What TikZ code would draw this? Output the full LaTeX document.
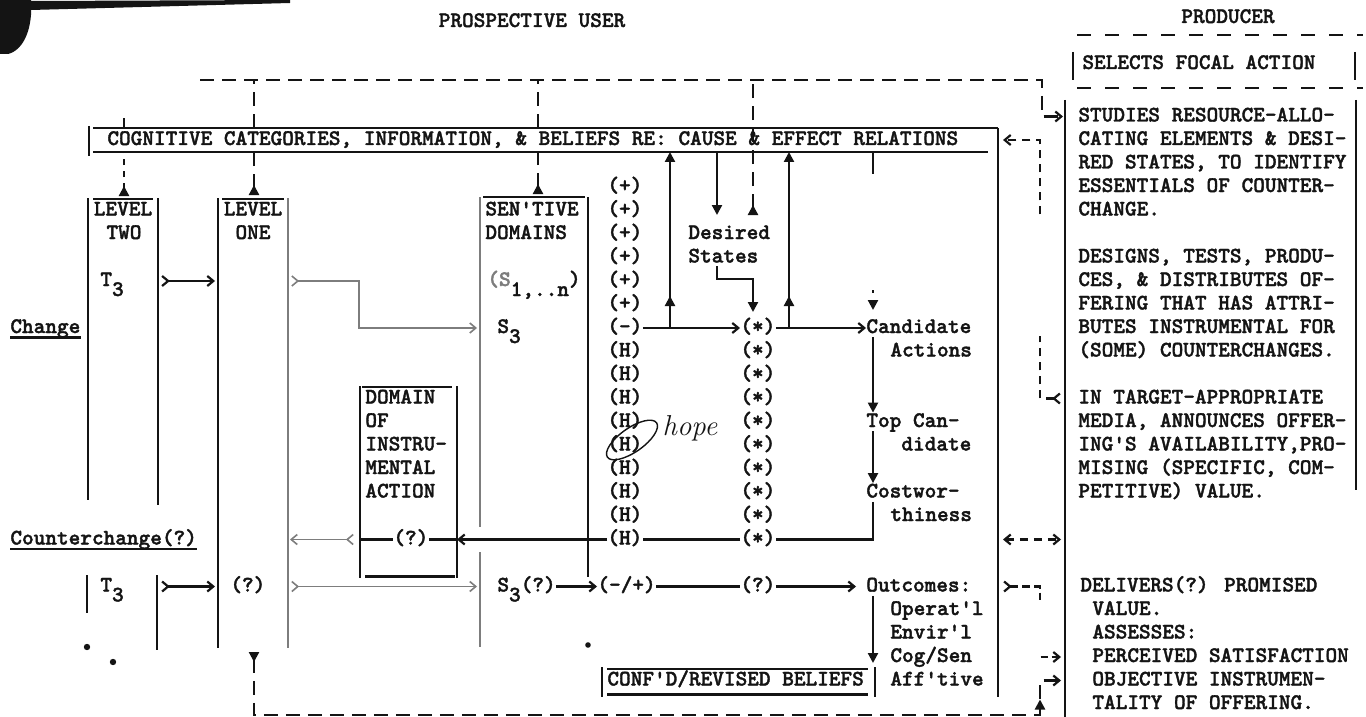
\documentclass[tikz,border=0pt]{standalone}
\usepackage{fontspec}
\usepackage{tikz}
\usetikzlibrary{arrows.meta,decorations.markings}
\newfontfamily\typew{lmmonolt10-bold.otf}[FakeBold=1.6]
\definecolor{TypeInk}{RGB}{20,20,20}
\definecolor{FaintInk}{RGB}{125,125,125}

\begin{document}
\begin{tikzpicture}[x=0.5pt, y=-0.5pt,
    tw/.style={font=\typew\fontsize{11.1}{11.75}\selectfont, text=TypeInk,
               inner sep=0pt, text height=7pt, text depth=2pt, anchor=west},
    twc/.style={tw, anchor=center},
    wire/.style={line width=1.1pt, draw=TypeInk},
    pale/.style={line width=0.8pt, draw=FaintInk},
    dsh/.style={line width=1.1pt, draw=TypeInk, dash pattern=on 7pt off 4pt},
    typed/.style={{Straight Barb[reversed,length=3pt,width=5pt]}-{Straight Barb[length=3pt,width=5pt]}},
    tohead/.style={-{Straight Barb[length=3pt,width=5pt]}},
    tipend/.style={-{Triangle[length=5pt,width=5pt]}},
    tipstart/.style={{Triangle[reversed,length=5pt,width=5pt]}-},
    midup/.style={postaction={decorate}, decoration={markings,
                  mark=at position #1 with {\arrow{Triangle[length=5pt,width=5pt]}}}}
  ]
  \fill[white] (0,0) rectangle (1366,717);
  \useasboundingbox (0,0) rectangle (1366,717);

  % scan edge, top left
  \fill[TypeInk] (0,0) -- (31,0) .. controls (33,28) and (24,50) .. (8,54) -- (0,54) -- cycle;
  \fill[TypeInk] (31,1) -- (290,0) -- (290,3) -- (31,10) -- cycle;

  % headings
  \node[twc] (user) at (532,22) {PROSPECTIVE USER};
  \node[twc] (prod) at (1228,18) {PRODUCER};
  \node[tw] (focal) at (1082,64) {SELECTS FOCAL ACTION};
  \draw[dsh, dash pattern=on 7pt off 7pt] (1077,35) -- (1363,35);
  \draw[dsh, dash pattern=on 7pt off 7pt] (1077,88) -- (1363,88);
  \draw[wire] (1073,52) -- (1073,80);
  \draw[wire] (1355,52) -- (1355,80);

  % cognitive bar and user frame
  \node[tw] (cog) at (107,140) {COGNITIVE CATEGORIES, INFORMATION, \& BELIEFS RE: CAUSE \& EFFECT RELATIONS};
  \coordinate (cogt) at (0,128);
  \coordinate (cogb) at (0,152);
  \coordinate (topln) at (0,80);
  \draw[wire] (93,128) -- (998,128);
  \draw[wire] (93,152) -- (988,152);
  \draw[wire] (89,126) -- (89,156);
  \draw[wire] (998,128) -- (998,697);

  % level two
  \node[twc] (lvtwo) at (123,210.5) {LEVEL};
  \node[twc] (two) at (124,234) {TWO};
  \draw[wire] (93,199) -- (153,199);
  \draw[wire] (88,198) -- (88,500);
  \draw[wire] (158,198) -- (158,505);
  \node[tw] (tthree) at (100,281) {T\raisebox{-5pt}{3}};

  % level one
  \node[twc] (lvone) at (253,210.5) {LEVEL};
  \node[twc] (one) at (253,234) {ONE};
  \draw[wire] (222,199) -- (284,199);
  \draw[wire] (218,198) -- (218,648);
  \draw[pale] (288,198) -- (288,648);

  \node[tw] (chg) at (10,328) {Change};
  \draw[wire] (chg.south west) -- (chg.south east);
  \node[tw] (cch) at (10,539.5) {Counterchange(?)};
  \draw[wire] (cch.south west) -- (cch.south east);

  % sensitive domains
  \node[tw] (sen) at (485,210.5) {SEN'TIVE};
  \node[tw] (dom) at (485,234) {DOMAINS};
  \draw[wire] (483,197) -- (585,197);
  \draw[pale] (480,197) -- (480,527);
  \draw[pale] (480,552) -- (480,647);
  \draw[wire] (588,197) -- (588,577);
  \node[tw] (sn) at (487,281) {{\color{FaintInk}(S}\raisebox{-5pt}{1,..n})};
  \node[tw] (sthree) at (497,328) {S\raisebox{-5pt}{3}};

  % domain of instrumental action
  \foreach \w [count=\k from 0] in {DOMAIN, OF, INSTRU-, MENTAL, ACTION}
    \node[tw] (ia\k) at (365,{398.5+23.5*\k}) {\w};
  \node[tw] (qdom) at (393,539.5) {(?)};
  \draw[wire] (362,387) -- (452,387);
  \draw[wire, line width=1.5pt] (365,576) -- (455,576);
  \draw[wire] (360,386) -- (360,578);
  \draw[wire] (457,386) -- (457,578);
  \coordinate (dombl) at (360,539.5);
  \coordinate (dombr) at (457,539.5);
  \draw[wire] (dombl) -- (qdom.west);
  \draw[wire] (qdom.east) -- (dombr);

  % belief columns
  \foreach \r in {2,...,7}
    \node[tw] (plus\r) at (607,{140+23.5*\r}) {(+)};
  \node[tw] (minus) at (607,328) {(-)};
  \foreach \r in {9,...,17}
    \node[tw] (h\r) at (607,{140+23.5*\r}) {(H)};
  \foreach \r in {8,...,17}
    \node[tw] (st\r) at (740,{140+23.5*\r}) {(*)};
  \node[tw] (desired) at (688,234) {Desired};
  \node[tw] (states) at (688,257.5) {States};

  \node[tw] (cand) at (866,328) {Candidate};
  \node[tw] (act) at (890,351.5) {Actions};
  \node[tw] (topc) at (866,422) {Top Can-};
  \node[tw] (didate) at (901,445.5) {didate};
  \node[tw] (cost) at (866,492.5) {Costwor-};
  \node[tw] (thin) at (890,516) {thiness};

  \node[tw] (outc) at (866,586.5) {Outcomes:};
  \node[tw] (oper) at (890,610) {Operat'l};
  \node[tw] (envir) at (890,633.5) {Envir'l};
  \node[tw] (cogsen) at (890,657) {Cog/Sen};
  \node[tw] (afft) at (890,680.5) {Aff'tive};

  % lower row
  \node[tw] (tlow) at (100,586.5) {T\raisebox{-5pt}{3}};
  \draw[wire] (87,575) -- (87,613);
  \draw[wire] (157,575) -- (157,650);
  \node[tw] (qone) at (230,586.5) {(?)};
  \node[tw] (sq) at (497,586.5) {S\raisebox{-5pt}{3}(?)};
  \node[tw] (pm) at (597,586.5) {(-/+)};
  \node[tw] (qmid) at (740,586.5) {(?)};

  \node[tw] (conf) at (607,680.5) {CONF'D/REVISED BELIEFS};
  \draw[wire] (607,669) -- (868,669);
  \draw[wire, line width=1.5pt] (607,694) -- (868,694);
  \draw[wire] (602,667) -- (602,697);
  \draw[wire] (875,667) -- (875,697);

  % producer
  \draw[wire] (1065,100) -- (1065,717);
  \draw[wire] (1356,100) -- (1356,490);
  \foreach \pline [count=\k from 0] in {{STUDIES RESOURCE-ALLO-},{CATING ELEMENTS \& DESI-},{RED STATES, TO IDENTIFY},{ESSENTIALS OF COUNTER-},{CHANGE.}}
    \node[tw] (pa\k) at (1078,{116.5+23.5*\k}) {\pline};
  \foreach \pline [count=\k from 0] in {{DESIGNS, TESTS, PRODU-},{CES, \& DISTRIBUTES OF-},{FERING THAT HAS ATTRI-},{BUTES INSTRUMENTAL FOR},{(SOME) COUNTERCHANGES.}}
    \node[tw] (pb\k) at (1078,{257.5+23.5*\k}) {\pline};
  \foreach \pline [count=\k from 0] in {{IN TARGET-APPROPRIATE},{MEDIA, ANNOUNCES OFFER-},{ING'S AVAILABILITY,PRO-},{MISING (SPECIFIC, COM-},{PETITIVE) VALUE.}}
    \node[tw] (pc\k) at (1078,{398.5+23.5*\k}) {\pline};
  \node[tw] (pd0) at (1080,586.5) {DELIVERS(?) PROMISED};
  \foreach \pline [count=\k from 1] in {{VALUE.},{ASSESSES:},{PERCEIVED SATISFACTION},{OBJECTIVE INSTRUMEN-},{TALITY OF OFFERING.}}
    \node[tw] (pd\k) at (1092,{586.5+23.5*\k}) {\pline};

  % dashed feedback along the top
  \coordinate (tl) at (200,80);
  \coordinate (tr) at (1042,80);
  \coordinate (pin0) at (1063,116.5);
  \draw[dsh, tohead] (tl) -- (tr) |- (pin0);

  % risers into the cognitive bar
  \coordinate (l2top) at (124,196);
  \coordinate (l1top) at (254,195);
  \coordinate (sentop) at (538,194);
  \coordinate (desup) at (753,215);
  \coordinate (desdn) at (717,215);
  \draw[dsh, dash pattern=on 3pt off 3pt, tipstart] (l2top) -- (l2top |- cogb);
  \draw[wire] (l2top |- cogt) -- ++(0,-10);
  \draw[dsh, tipstart] (l1top) -- (l1top |- cogb);
  \draw[dsh] (l1top |- cogt) -- (l1top |- topln);
  \draw[dsh, tipstart] (sentop) -- (sentop |- cogb);
  \draw[dsh] (sentop |- cogt) -- (sentop |- topln);
  \draw[dsh, tipstart] (desup) -- (desup |- topln);
  \draw[wire, tipend] (desdn |- cogb) -- (desdn);

  \coordinate (ra) at (670,328);
  \coordinate (rb) at (789,328);
  \draw[wire, tipend, midup=16pt] (ra) -- (ra |- cogb);
  \draw[wire, tipend, midup=16pt] (rb) -- (rb |- cogb);
  \coordinate (cdn) at (873,310);
  \draw[wire, tipend, dash pattern=on 11pt off 58pt on 1.5pt off 20pt] (cdn |- cogb) -- (cdn);

  \coordinate (dsa) at (717,266);
  \coordinate (dsb) at (753,312);
  \draw[wire, tipend] (dsa) -- ++(0,13) -| (dsb);

  % candidate chain
  \draw[wire, tohead] (minus.east) -- (st8.west);
  \draw[wire, tohead] (st8.east) -- (cand.west);
  \draw[wire, tipend] ([xshift=3.5pt]cand.south west) -- ([xshift=3.5pt]topc.north west);
  \draw[wire, tipend] ([xshift=3.5pt]topc.south west) -- ([xshift=3.5pt]cost.north west);
  \draw[wire] ([xshift=3.5pt]cost.south west) |- (st17.east);
  \draw[wire] (st17.west) -- (h17.east);
  \draw[wire, tohead] (h17.west) -- (dombr);
  \coordinate (outdn) at (873,663);
  \draw[wire, tipend] ([xshift=3.5pt]outc.south west) -- (outdn);

  % typed arrows between the columns
  \coordinate (l2r6) at (161,281);
  \coordinate (l1l6) at (215,281);
  \draw[wire, typed] (l2r6) -- (l1l6);
  \coordinate (l1r6) at (291,281);
  \coordinate (bend6) at (359,281);
  \coordinate (senl8) at (477,328);
  \draw[pale, typed] (l1r6) -- (bend6) |- (senl8);
  \coordinate (l1r17) at (290,539.5);
  \draw[pale, typed] ([xshift=-3pt]dombl) -- (l1r17);
  \coordinate (l2r19) at (161,586.5);
  \coordinate (l1l19) at (215,586.5);
  \draw[wire, typed] (l2r19) -- (l1l19);
  \coordinate (l1r19) at (291,586.5);
  \coordinate (senl19) at (477,586.5);
  \draw[pale, typed] (l1r19) -- (senl19);
  \draw[wire, tohead] (sq.east) -- (pm.west);
  \draw[wire] (pm.east) -- (qmid.west);
  \draw[wire, tohead] (qmid.east) -- ([xshift=-5pt]outc.west);

  % links with the producer
  \coordinate (fr0) at (1003,140);
  \coordinate (cj0) at (1040,140);
  \coordinate (pin11) at (1061,398.5);
  \draw[dsh, typed, dash pattern=on 4pt off 3pt on 4pt off 3pt on 4pt off 3pt on 4pt off 3pt on 4pt off 3pt on 3pt off 61pt on 4pt off 3pt on 4pt off 3pt on 4pt off 3pt on 4pt off 3pt on 4pt off 3pt on 4pt off 3pt on 4pt off 3pt on 4pt off 3pt on 4pt off 3pt]
    (pin11) -| (cj0) -- (fr0);
  \coordinate (fr17) at (1003,539.5);
  \coordinate (pin17) at (1061,539.5);
  \draw[dsh, dash pattern=on 4pt off 3pt, {Straight Barb[length=3pt,width=5pt]}-{Straight Barb[length=3pt,width=5pt]}] (fr17) -- (pin17);
  \coordinate (fr19) at (1003,586.5);
  \coordinate (cj22) at (1040,657);
  \coordinate (pin22) at (1061,657);
  \draw[dsh, typed, dash pattern=on 4pt off 2pt on 4pt off 2pt on 4pt off 2pt on 3.5pt off 29pt on 3.5pt off 2pt on 4pt off 2pt on 4pt off 2pt]
    (fr19) -| (cj22) -- (pin22);
  \coordinate (l1bot) at (254,652);
  \coordinate (cj24) at (1040,715);
  \coordinate (pin23) at (1061,680.5);
  \draw[dsh, {Triangle[reversed,length=5pt,width=5pt]}-{Straight Barb[length=3pt,width=5pt]}, midup=-20pt] (l1bot) |- (cj24) |- (pin23);

  % stray typed dots
  \fill[TypeInk] (87,647) circle (1.6pt);
  \fill[TypeInk] (113,662) circle (1.6pt);
  \fill[TypeInk] (588,645) circle (1.4pt);

  % handwritten note
  \draw[TypeInk, line width=0.7pt, rotate around={35:(632,440)}] (632,440) ellipse [x radius=30, y radius=12];
  \node[font=\itshape\Large, text=TypeInk, inner sep=0pt] (hope) at (690,428) {hope};
\end{tikzpicture}
\end{document}
